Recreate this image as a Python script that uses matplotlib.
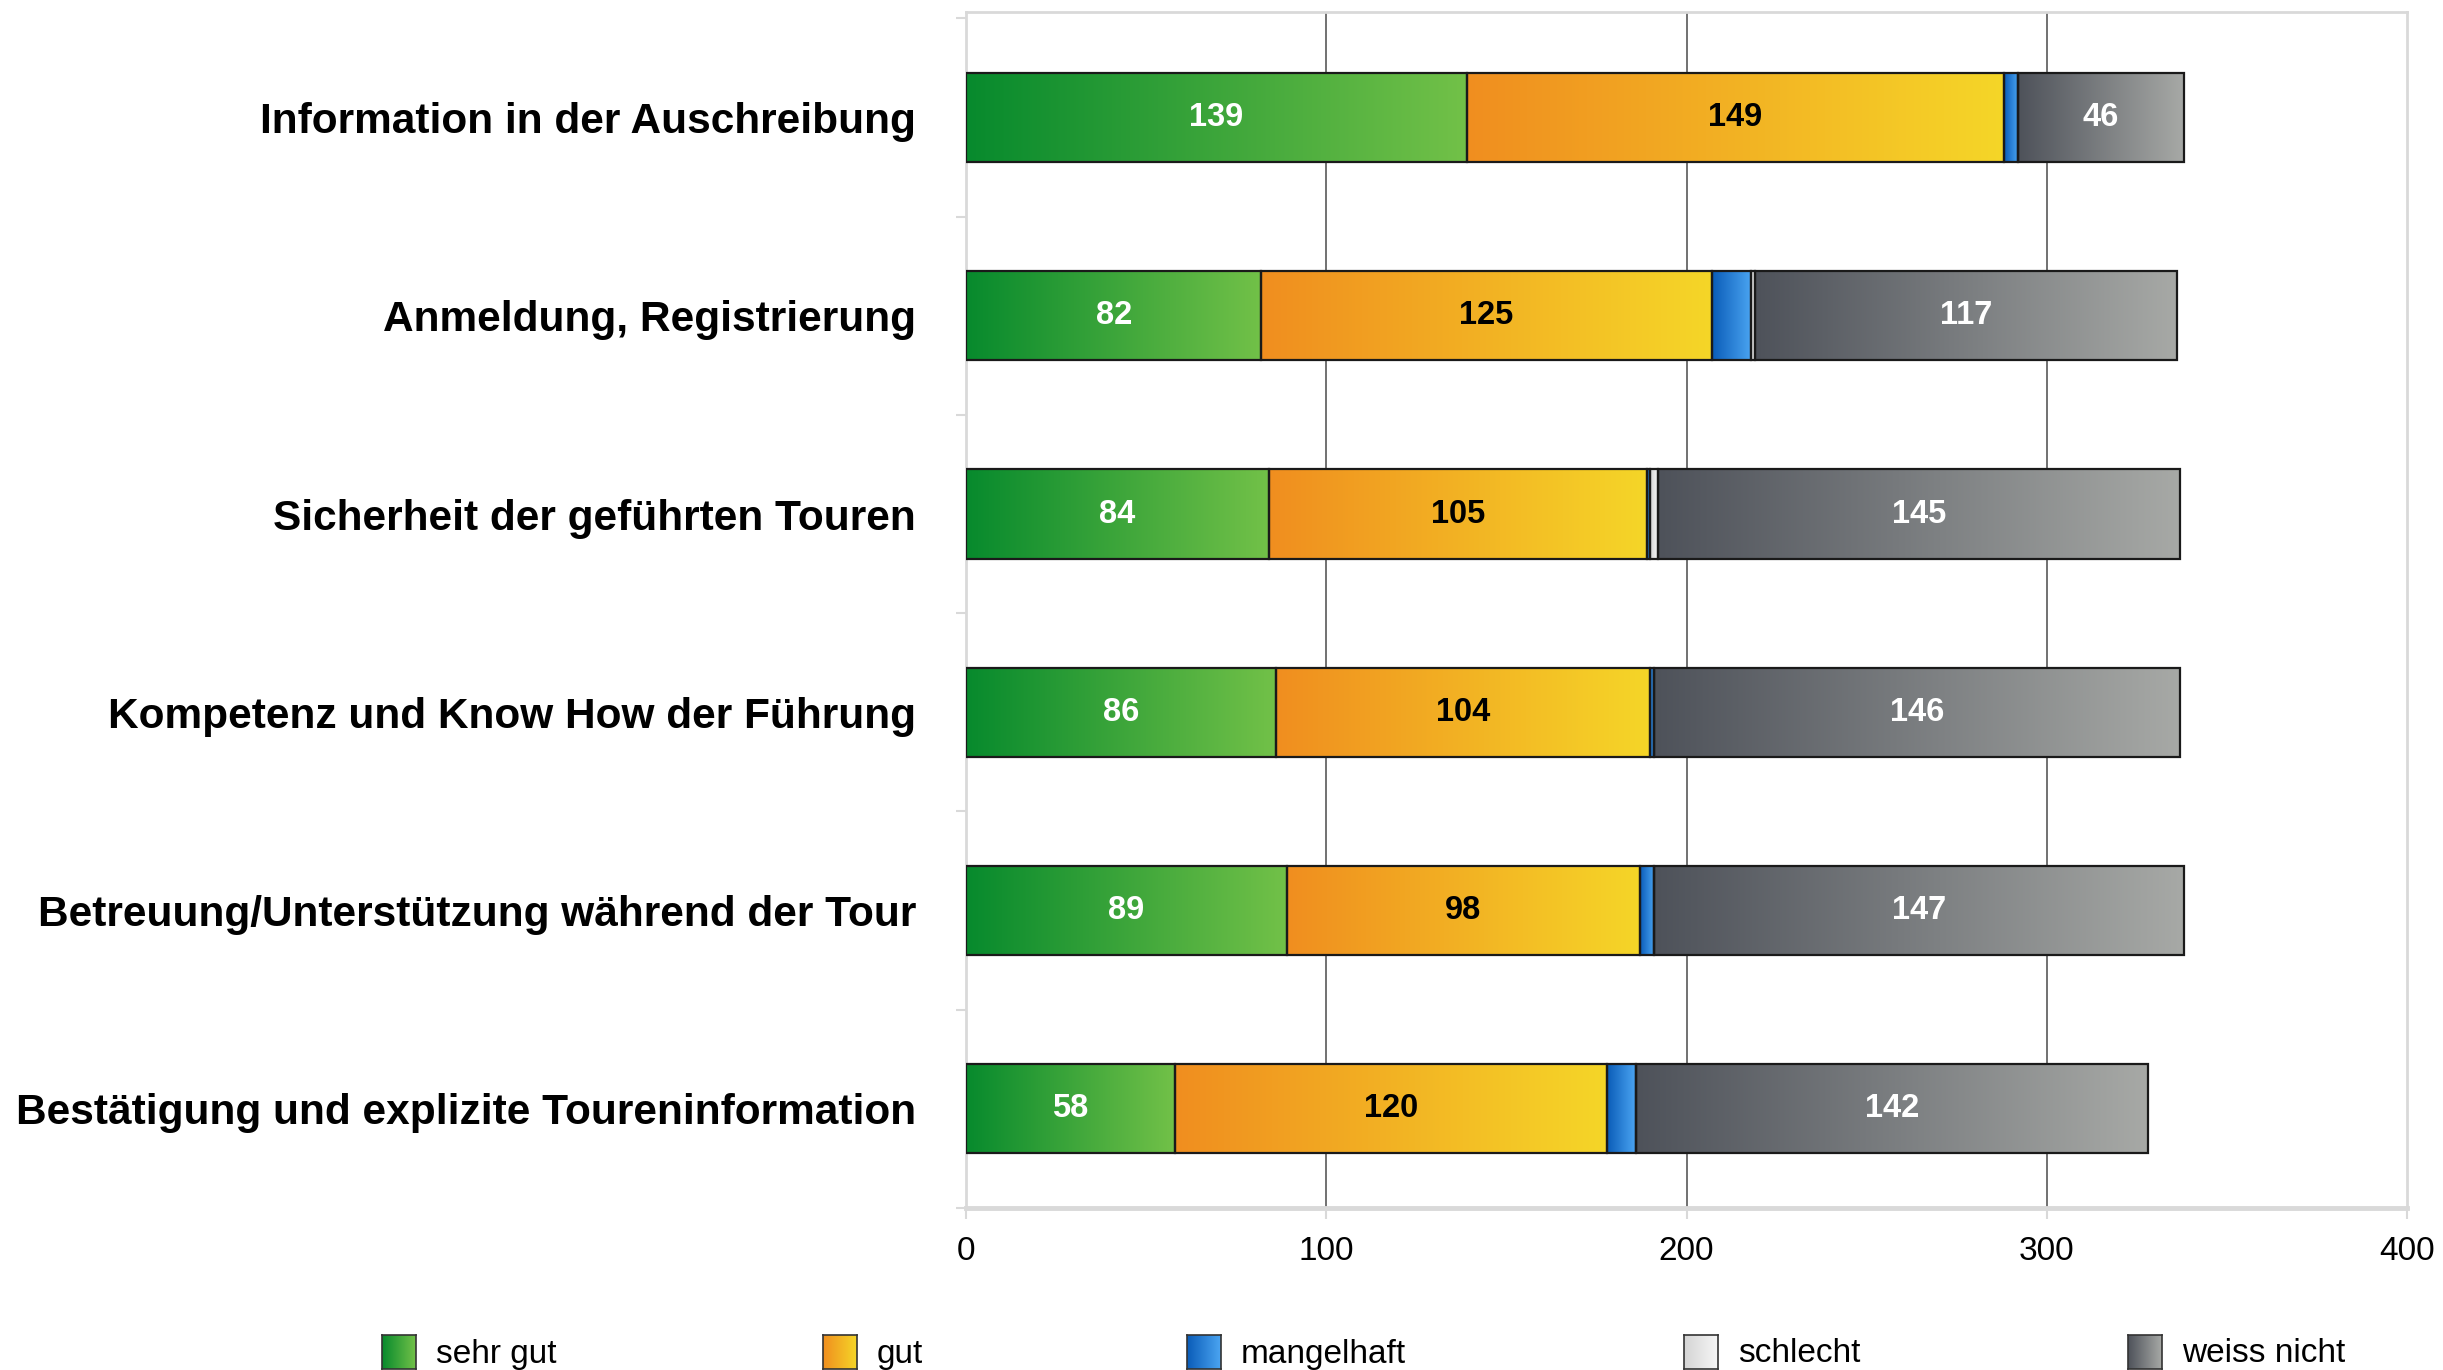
import numpy as np
import matplotlib
matplotlib.use("Agg")
import matplotlib.pyplot as plt
from matplotlib.colors import LinearSegmentedColormap

plt.rcParams["font.family"] = ["Liberation Sans", "DejaVu Sans"]

# ---------------------------------------------------------------------------
# Data
# ---------------------------------------------------------------------------
categories = [
    "Information in der Auschreibung",
    "Anmeldung, Registrierung",
    "Sicherheit der geführten Touren",
    "Kompetenz und Know How der Führung",
    "Betreuung/Unterstützung während der Tour",
    "Bestätigung und explizite Toureninformation",
]
series_names = ["sehr gut", "gut", "mangelhaft", "schlecht", "weiss nicht"]
sehr_gut = [139, 82, 84, 86, 89, 58]
gut = [149, 125, 105, 104, 98, 120]
mangelhaft = [4, 11, 1, 1, 4, 8]
schlecht = [0, 1, 2, 0, 0, 0]
weiss_nicht = [46, 117, 145, 146, 147, 142]
x_ticks = [0, 100, 200, 300, 400]

series_values = [sehr_gut, gut, mangelhaft, schlecht, weiss_nicht]

# gradient (left -> right) per series
gradients = [
    ("#078a2d", "#72c148"),
    ("#f08e1f", "#f5d628"),
    ("#0a5cb8", "#4ba5f2"),
    ("#d4d4d4", "#f6f6f6"),
    ("#4e525a", "#a7a9a6"),
]
label_colors = ["white", "black", None, None, "white"]

W, H = 2443, 1370
fig = plt.figure(figsize=(W / 100, H / 100), dpi=100)
ax = fig.add_axes([0.3954, 0.1183, 0.5899, 0.8726])

y = np.arange(len(categories))
left = np.zeros(len(categories))
grad = np.linspace(0, 1, 256).reshape(1, -1)

for vals, (c0, c1), lc in zip(series_values, gradients, label_colors):
    vals = np.array(vals, dtype=float)
    bars = ax.barh(y, vals, left=left, height=0.45, facecolor="none",
                   edgecolor="#1a1a1a", linewidth=1.6, zorder=4)
    cmap = LinearSegmentedColormap.from_list("g", [c0, c1])
    for rect, v in zip(bars, vals):
        if v <= 0:
            continue
        x0, y0 = rect.get_x(), rect.get_y()
        w, h = rect.get_width(), rect.get_height()
        ax.imshow(grad, extent=[x0, x0 + w, y0 + h, y0], cmap=cmap,
                  aspect="auto", zorder=3, interpolation="bilinear")
        if lc is not None:
            ax.text(x0 + w / 2, y0 + h / 2, f"{int(v)}", ha="center",
                    va="center", color=lc, fontsize=23.5, fontweight="bold",
                    zorder=5)
    left += vals

ax.set_xlim(0, 400)
ax.set_ylim(5.50, -0.53)

# grid and frame
for xv in x_ticks[1:-1]:
    ax.axvline(xv, color="#4a4a4a", linewidth=1.1, zorder=1)
for side in ["left", "right", "top"]:
    ax.spines[side].set_color("#d9d9d9")
    ax.spines[side].set_linewidth(2)
ax.spines["bottom"].set_color("#d9d9d9")
ax.spines["bottom"].set_linewidth(3.5)

ax.set_xticks(x_ticks)
ax.set_xticklabels([str(t) for t in x_ticks])
ax.tick_params(axis="x", length=8, width=1.5, color="#d9d9d9",
               labelsize=24, pad=12)

ax.set_yticks(y)
ax.set_yticklabels(categories, fontsize=30.5, fontweight="bold")
ax.tick_params(axis="y", length=0, pad=36)
ax.set_yticks(np.arange(len(categories) + 1) - 0.5, minor=True)
ax.tick_params(axis="y", which="minor", length=7, width=1.5, color="#d9d9d9")

# legend with gradient swatches
swatch_x = [382, 823, 1187, 1684, 2128]
for name, (c0, c1), sx in zip(series_names, gradients, swatch_x):
    sax = fig.add_axes([sx / W, 1 / H, 34 / W, 34 / H])
    sax.imshow(grad, cmap=LinearSegmentedColormap.from_list("g", [c0, c1]),
               aspect="auto", extent=[0, 1, 0, 1])
    sax.set_xticks([])
    sax.set_yticks([])
    for sp in sax.spines.values():
        sp.set_color("#333333")
        sp.set_linewidth(1.2)
    fig.text((sx + 54) / W, 16 / H, name, fontsize=24, ha="left",
             va="center")

fig.savefig("out.png", dpi=100)
